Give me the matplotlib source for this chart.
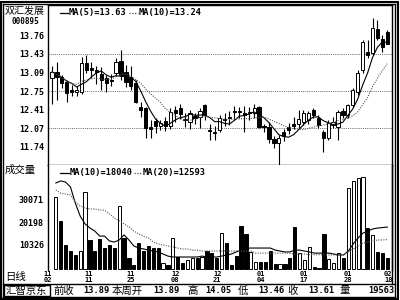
import matplotlib
matplotlib.use('Agg')
import matplotlib.pyplot as plt
import numpy as np
import pandas as pd
from matplotlib.patches import Rectangle
from matplotlib.lines import Line2D

plt.rcParams['font.family'] = ['Noto Sans CJK SC', 'DejaVu Sans']

# ---------------- data ----------------
opens = [12.99, 13.10, 13.01, 12.92, 12.77, 12.73, 12.73, 13.26, 13.17, 13.14,
         13.06, 12.99, 12.95, 13.08, 13.30, 13.10, 13.01, 12.90, 12.46, 12.44,
         12.09, 12.20, 12.11, 12.20, 12.11, 12.40, 12.44, 12.22, 12.18, 12.29,
         12.27, 12.49, 12.03, 12.00, 12.03, 12.24, 12.27, 12.38, 12.38, 12.35,
         12.35, 12.35, 12.46, 12.11, 12.09, 11.87, 11.80, 12.00, 12.09, 12.14,
         12.14, 12.18, 12.22, 12.40, 12.25, 12.00, 11.89, 12.13, 12.09, 12.38,
         12.31, 12.49, 12.73, 13.14, 13.47, 13.45, 13.89, 13.70, 13.83]
highs = [13.21, 13.28, 13.04, 12.95, 12.86, 12.84, 13.37, 13.41, 13.28, 13.21,
         13.19, 13.04, 13.06, 13.36, 13.50, 13.23, 13.21, 12.95, 12.55, 12.46,
         12.22, 12.25, 12.22, 12.27, 12.44, 12.47, 12.51, 12.35, 12.40, 12.35,
         12.44, 12.51, 12.14, 12.11, 12.31, 12.35, 12.38, 12.47, 12.46, 12.47,
         12.46, 12.51, 12.47, 12.14, 12.18, 11.92, 11.94, 12.05, 12.16, 12.27,
         12.40, 12.40, 12.38, 12.44, 12.31, 12.03, 12.22, 12.27, 12.40, 12.44,
         12.51, 12.81, 13.14, 13.69, 13.69, 14.09, 14.05, 13.78, 13.87]
lows = [12.51, 12.59, 12.81, 12.55, 12.66, 12.66, 12.70, 13.08, 12.99, 12.88,
        12.77, 12.73, 12.84, 13.03, 12.95, 12.82, 12.77, 12.53, 12.27, 11.89,
        11.89, 11.98, 12.03, 12.02, 12.05, 12.18, 12.24, 12.09, 12.05, 12.14,
        12.07, 12.22, 11.85, 11.85, 12.00, 12.11, 12.13, 12.22, 12.25, 12.00,
        12.22, 12.25, 12.07, 12.00, 11.80, 11.70, 11.39, 11.83, 11.96, 12.05,
        12.07, 12.13, 12.14, 12.25, 12.07, 11.63, 11.85, 12.07, 11.85, 12.25,
        12.25, 12.46, 12.68, 13.08, 13.36, 13.41, 13.69, 13.46, 13.61]
closes = [13.10, 13.01, 12.90, 12.71, 12.73, 12.77, 13.26, 13.14, 13.14, 13.10,
          12.95, 12.90, 12.93, 13.28, 13.04, 12.92, 12.84, 12.55, 12.40, 12.07,
          12.05, 12.11, 12.16, 12.11, 12.36, 12.35, 12.33, 12.24, 12.35, 12.25,
          12.38, 12.31, 12.02, 11.98, 12.25, 12.22, 12.25, 12.36, 12.36, 12.31,
          12.36, 12.44, 12.09, 12.09, 11.87, 11.80, 11.89, 11.92, 12.03, 12.11,
          12.24, 12.35, 12.35, 12.31, 12.13, 11.89, 12.16, 12.18, 12.36, 12.31,
          12.49, 12.77, 13.08, 13.65, 13.41, 13.91, 13.72, 13.56, 13.61]
volumes = [31100, 20700, 10200, 7700, 5900, 7700, 33300, 12400, 7700, 12700,
           8800, 10200, 8800, 27200, 13100, 4700, 1500, 11200, 7700, 9800,
           8800, 8800, 2300, 1500, 13100, 4900, 2600, 3700, 4400, 4400,
           5100, 7700, 6900, 4400, 15300, 11200, 1500, 5400, 18500, 15000,
           7300, 3000, 3000, 3000, 7600, 2000, 2000, 2000, 4400, 18000,
           6900, 3700, 9200, 500, 300, 15000, 4000, 2300, 6600, 4400,
           35000, 38000, 39300, 39800, 17600, 14600, 7200, 6600, 4400]
vol_ma10 = [37200, 38100, 37600, 35500, 28500, 22800, 19400, 17600, 16300, 14100,
            14100, 12000, 11500, 12400, 14600, 12400, 9800, 8900, 8500, 8000,
            7600, 7200, 6300, 5400, 5000, 5000, 5000, 5000, 5000, 5000,
            5400, 5000, 5000, 5000, 5400, 5900, 6300, 7200, 8000, 8900,
            8900, 8900, 8900, 8900, 8900, 8000, 7600, 7200, 7200, 8000,
            8000, 7600, 7200, 6700, 6700, 6700, 6700, 6300, 5900, 5900,
            7600, 10700, 13300, 15400, 16300, 17200, 17600, 17800, 18040]
vol_ma20 = [34100, 32800, 32400, 32000, 28900, 27200, 26300, 25900, 25900, 25400,
            25400, 23700, 22000, 20700, 19400, 18100, 16300, 15000, 14100, 13300,
            11500, 10700, 10200, 9800, 9400, 8900, 8500, 8500, 8000, 8000,
            7600, 7600, 7600, 7600, 7600, 7600, 7600, 7600, 7600, 7600,
            7600, 6700, 6700, 6700, 6700, 6700, 6700, 6700, 6700, 6300,
            6300, 6300, 6000, 6000, 6000, 6000, 5900, 5900, 5900, 5900,
            7200, 8500, 9800, 11100, 11500, 12000, 12400, 12400, 12593]
date_labels = ['11\n02', '11\n11', '11\n25', '12\n08', '12\n21',
               '01\n04', '01\n17', '01\n28', '02\n18']
date_pos = [-1.6, 6.7, 15.4, 24.5, 33.1, 42.0, 50.9, 59.8, 68.2]
price_ticks = [13.76, 13.43, 13.09, 12.75, 12.41, 12.07, 11.74]
grid_levels = [13.43, 12.75, 12.07]
vol_ticks = [30071, 20198, 10326]
ma_legend = ['MA(5)=13.63', 'MA(10)=13.24']
vol_legend = ['MA(10)=18040', 'MA(20)=12593']
info_items = [('前收', 53), ('13.89', 83), ('本周开', 112), ('13.89', 153),
              ('高', 187), ('14.05', 205), ('低', 238), ('13.46', 258),
              ('收', 287), ('13.61', 308), ('量', 339), ('19563', 368)]

# ---------------- figure ----------------
W, H = 400, 300
fig = plt.figure(figsize=(4, 3), dpi=100)
fig.patch.set_facecolor('white')

def fx(px):
    return px / W

def fy(py):
    return 1 - py / H

L, R = 48, 392
ax = fig.add_axes([fx(L), fy(165), fx(R) - fx(L), fy(5) - fy(165)])
axv = fig.add_axes([fx(L), fy(270), fx(R) - fx(L), fy(165) - fy(270)])

n = len(closes)
x = np.arange(n)
xlim = (-0.8, 68.95)
mono = dict(family='DejaVu Sans Mono', fontweight='bold')

# price candles
bw = 0.66
for i in range(n):
    o, h, l, c = opens[i], highs[i], lows[i], closes[i]
    up = c >= o
    ax.vlines(i, l, h, color='black', lw=0.8, zorder=2)
    bot = min(o, c)
    ht = max(abs(c - o), 0.012)
    ax.add_patch(Rectangle((i - bw / 2, bot), bw, ht,
                           facecolor='white' if up else 'black',
                           edgecolor='black', lw=0.7, zorder=3))

s = pd.Series(closes)
ma5 = s.rolling(5, min_periods=1).mean()
ma10 = s.rolling(10, min_periods=1).mean()
ax.plot(x, ma5, color='black', lw=0.8, zorder=4)
ax.plot(x, ma10, color='#555555', lw=0.8, ls=(0, (1, 1.2)), zorder=4)

for g in grid_levels:
    ax.axhline(g, color='#666666', lw=0.7, ls=(0, (1, 1.2)), zorder=1)

ax.set_xlim(*xlim)
ax.set_ylim(11.392, 14.329)
ax.set_xticks([])
ax.set_yticks(price_ticks)
ax.set_yticklabels([f'{t:.2f}' for t in price_ticks], fontsize=6, **mono)
ax.tick_params(axis='y', length=0, pad=3)
for sp in ax.spines.values():
    sp.set_linewidth(1.0)

# legend price
ax.add_line(Line2D([fx(60), fx(68)], [fy(13), fy(13)], transform=fig.transFigure,
                   color='black', lw=0.9))
fig.text(fx(69), fy(13), ma_legend[0], fontsize=6.2, va='center', ha='left', **mono)
ax.add_line(Line2D([fx(129), fx(138)], [fy(13), fy(13)], transform=fig.transFigure,
                   color='#555555', lw=0.9, ls=(0, (1, 1.2))))
fig.text(fx(139), fy(13), ma_legend[1], fontsize=6.2, va='center', ha='left', **mono)

# volume
vcols = ['white' if closes[i] >= opens[i] else 'black' for i in range(n)]
axv.bar(x, volumes, width=bw, color=vcols, edgecolor='black', lw=0.7, zorder=3)
axv.plot(x, vol_ma10, color='black', lw=0.8, zorder=4)
axv.plot(x, vol_ma20, color='#555555', lw=0.8, ls=(0, (1, 1.2)), zorder=4)
axv.set_xlim(*xlim)
axv.set_ylim(-650, 45020)
axv.set_yticks(vol_ticks)
axv.set_yticklabels([str(v) for v in vol_ticks], fontsize=6, **mono)
axv.tick_params(axis='y', length=0, pad=3)
axv.set_xticks(date_pos)
axv.set_xticklabels(date_labels, fontsize=5, linespacing=0.85, **mono)
axv.tick_params(axis='x', length=0, pad=1)
axv.spines['top'].set_visible(False)
axv.spines['bottom'].set_visible(False)
for sp in ('left', 'right'):
    axv.spines[sp].set_linewidth(1.0)

fig.add_artist(Line2D([fx(60), fx(69)], [fy(173), fy(173)], color='black', lw=0.9))
fig.text(fx(70), fy(173), vol_legend[0], fontsize=6.2, va='center', ha='left', **mono)
fig.add_artist(Line2D([fx(134), fx(142)], [fy(173), fy(173)], color='#555555', lw=0.9,
                      ls=(0, (1, 1.2))))
fig.text(fx(143), fy(173), vol_legend[1], fontsize=6.2, va='center', ha='left', **mono)

# left labels
fig.text(fx(5), fy(11), '双汇发展', fontsize=7.2, va='center', ha='left')
fig.text(fx(11), fy(22), '000895', fontsize=5.5, va='center', ha='left', **mono)
fig.text(fx(5), fy(170), '成交量', fontsize=7.5, va='center', ha='left')
fig.text(fx(5), fy(277), '日线', fontsize=7.5, va='center', ha='left')

# bottom info row
fig.add_artist(Line2D([fx(3), fx(395)], [fy(284), fy(284)], color='black', lw=1.0))
fig.add_artist(Rectangle((fx(4), fy(296)), fx(50) - fx(4), fy(285) - fy(296),
                         transform=fig.transFigure, fill=False, edgecolor='black', lw=1.0))
fig.text(fx(6), fy(290.5), '汇智京东', fontsize=7.5, va='center', ha='left')
for txt, px in info_items:
    if txt[0].isdigit():
        fig.text(fx(px), fy(290.5), txt, fontsize=6.2, va='center', ha='left', **mono)
    else:
        fig.text(fx(px), fy(290.5), txt, fontsize=7.5, va='center', ha='left')

# outer frame
fig.add_artist(Rectangle((fx(1), fy(298.5)), fx(398) - fx(1), fy(1.5) - fy(298.5),
                         transform=fig.transFigure, fill=False, edgecolor='black', lw=1.5))
fig.add_artist(Line2D([fx(3), fx(395)], [fy(4), fy(4)], color='black', lw=1.0))
fig.add_artist(Line2D([fx(3), fx(3)], [fy(4), fy(297)], color='black', lw=1.0))
fig.add_artist(Line2D([fx(395), fx(395)], [fy(4), fy(297)], color='black', lw=1.0))
fig.add_artist(Line2D([fx(3), fx(395)], [fy(297), fy(297)], color='black', lw=1.0))
fig.add_artist(Line2D([fx(R), fx(R)], [fy(165), fy(284)], color='black', lw=1.0))

fig.savefig('out.png', dpi=100, facecolor='white')
